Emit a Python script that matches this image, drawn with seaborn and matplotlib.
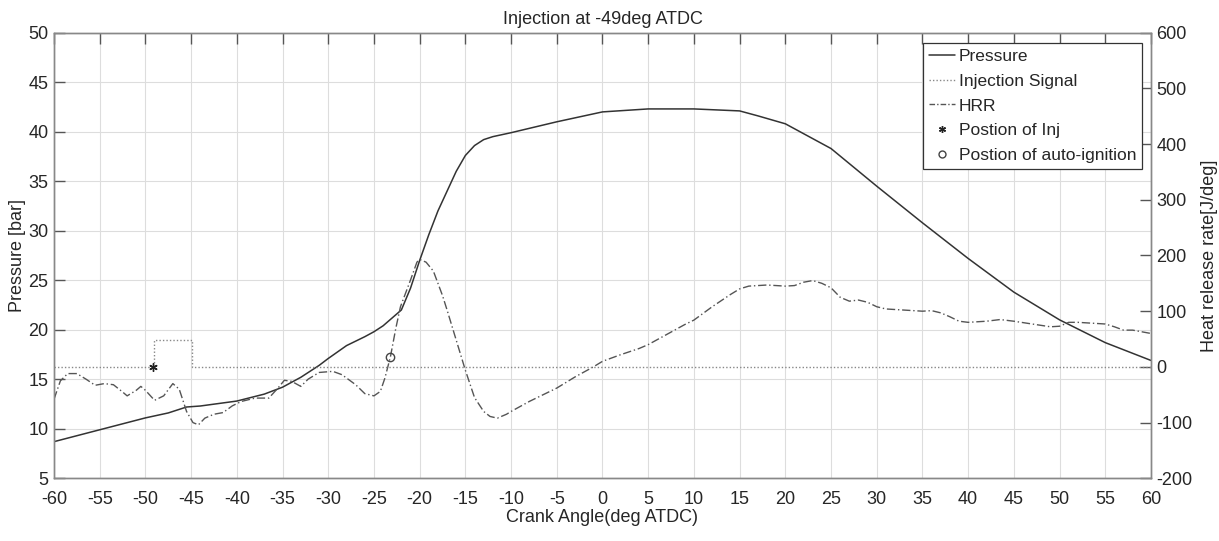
import numpy as np
import pandas as pd
import seaborn as sns
import matplotlib.pyplot as plt
from matplotlib.lines import Line2D

# crank angle (deg ATDC) vs cylinder pressure (bar)
p_deg = [-60, -55, -50, -47.5, -45.5, -44, -40, -37, -35, -33, -31, -30, -28, -26,
         -25, -24, -23, -22, -21, -20, -19, -18, -17, -16, -15, -14, -13, -12, -10,
         -5, 0, 5, 10, 15, 17, 20, 25, 30, 35, 40, 45, 50, 55, 60]
pressure = [8.7, 9.9, 11.1, 11.6, 12.2, 12.3, 12.8, 13.5, 14.2, 15.2, 16.4, 17.1, 18.4, 19.3,
            19.8, 20.4, 21.2, 22.0, 24.2, 27.0, 29.6, 32.0, 34.0, 36.0, 37.6, 38.6, 39.2, 39.5, 39.9,
            41.0, 42.0, 42.3, 42.3, 42.1, 41.6, 40.8, 38.3, 34.5, 30.8, 27.2, 23.8, 21.0, 18.7, 16.9]

# heat release rate (J/deg)
h_deg = [-60, -59.3, -58.5, -57.5, -56.5, -55.5, -54.5, -53.5, -52.5, -52, -51, -50.5, -50,
         -49, -48, -47, -46.3, -45.5, -44.8, -44.2, -43.5, -42.5, -41.5, -40.5, -39.5, -38,
         -36.5, -35.5, -34.8, -34, -33, -32.2, -31, -29.5, -28.5, -27, -26, -25, -24.3, -23.8,
         -23.2, -22.6, -22.1, -21, -20.3, -20, -19.3, -18.5, -17.5, -17, -16, -15, -14, -13,
         -12.3, -11.5, -10.5, -10, -8, -6, -5, -3, -1, 0, 2, 4, 5, 7, 9, 10, 12, 14, 15, 16,
         18, 20, 21, 22, 23, 24, 25, 26, 27, 28, 29, 30, 31, 33, 35, 36, 37, 38, 39, 40, 42,
         43.5, 45, 47, 49, 50, 51, 52, 54, 55, 56, 57, 58, 59, 60]
hrr = [-58, -25, -12, -12, -22, -33, -30, -32, -45, -52, -42, -35, -42,
       -60, -52, -30, -40, -80, -100, -104, -92, -85, -82, -70, -62, -56,
       -56, -38, -24, -26, -35, -22, -10, -8, -14, -32, -48, -52, -44, -20,
       18, 70, 108, 156, 188, 193, 188, 172, 128, 102, 48, -6, -55, -80,
       -89, -92, -85, -80, -62, -46, -38, -18, 0, 10, 22, 33, 40, 58, 76, 84, 108, 130, 140, 145,
       147, 145, 146, 152, 155, 150, 142, 125, 118, 120, 116, 108, 104, 102, 100, 101, 97, 90, 82, 80, 82,
       85, 82, 77, 72, 73, 80, 80, 78, 77, 72, 66, 66, 63, 60]

# injection signal (scaled, plotted on right axis)
inj_deg = [-60, -49.1, -49.1, -44.9, -44.9, 60]
inj_sig = [0, 0, 48, 48, 0, 0]

inj_pos = (-49.2, 0)
ign_pos = (-23.2, 18)

sns.set_style("white")
plt.rcParams['font.family'] = ['Liberation Sans', 'DejaVu Sans']
plt.rcParams['axes.unicode_minus'] = False

fig = plt.figure(figsize=(12.19, 5.41), dpi=100)
ax = fig.add_axes([0.0443, 0.1159, 0.8999, 0.8237])
ax2 = ax.twinx()

sns.lineplot(x=p_deg, y=pressure, ax=ax, color="#333333", linewidth=1.1, estimator=None)
sns.lineplot(x=h_deg, y=hrr, ax=ax2, color="#555555", linewidth=1.0, linestyle=(0, (6, 2, 1, 2)),
             estimator=None, sort=False)
sns.lineplot(x=inj_deg, y=inj_sig, ax=ax2, color="#888888", linewidth=1.0, linestyle=(0, (1, 1.5)),
             estimator=None, sort=False)
ax2.plot(*inj_pos, marker=(6, 2, 0), color="#222222", markersize=6, linestyle="none")
ax2.plot(*ign_pos, marker="o", markerfacecolor="none", markeredgecolor="#444444",
         markersize=6, linestyle="none")

ax.set_xlim(-60, 60)
ax.set_ylim(5, 50)
ax2.set_ylim(-200, 600)
ax.set_xticks(np.arange(-60, 61, 5))
ax.set_yticks(np.arange(5, 51, 5))
ax2.set_yticks(np.arange(-200, 601, 100))

ax.grid(True, color="#dddddd", linewidth=0.8)
ax.set_axisbelow(True)

for a in (ax, ax2):
    for s in a.spines.values():
        s.set_color("#888888")
        s.set_linewidth(1.0)
ax.tick_params(axis="both", direction="in", length=8, width=1, color="#555555",
               labelsize=13, top=True, pad=4)
ax.tick_params(axis="x", pad=9)
ax.tick_params(axis="y", right=False)
ax2.tick_params(axis="y", direction="in", length=8, width=1, color="#555555",
                labelsize=13, pad=4)

ax.set_title("Injection at -49deg ATDC", fontsize=13, pad=6)
ax.set_xlabel("Crank Angle(deg ATDC)", fontsize=13, labelpad=1)
ax.set_ylabel("Pressure [bar]", fontsize=13, labelpad=2)
ax2.set_ylabel("Heat release rate[J/deg]", fontsize=13)
ax2.yaxis.set_label_coords(1.046, 0.5)

handles = [
    Line2D([], [], color="#333333", linewidth=1.1),
    Line2D([], [], color="#888888", linewidth=1.0, linestyle=(0, (1, 1.5))),
    Line2D([], [], color="#555555", linewidth=1.0, linestyle=(0, (4, 1.5, 1, 1.5))),
    Line2D([], [], marker=(6, 2, 0), color="#222222", markersize=5, linestyle="none"),
    Line2D([], [], marker="o", markerfacecolor="none", markeredgecolor="#444444",
           markersize=5, linestyle="none"),
]
labels = ["Pressure", "Injection Signal", "HRR", "Postion of Inj", "Postion of auto-ignition"]
leg = ax2.legend(handles, labels, loc="upper right", bbox_to_anchor=(0.992, 0.977),
                 borderaxespad=0, fontsize=12.5, frameon=True, fancybox=False,
                 handlelength=1.5, handletextpad=0.2, labelspacing=0.55,
                 borderpad=0.35, framealpha=1)
leg.get_frame().set_edgecolor("#333333")
leg.get_frame().set_linewidth(0.9)

fig.savefig("out.png", dpi=100)
